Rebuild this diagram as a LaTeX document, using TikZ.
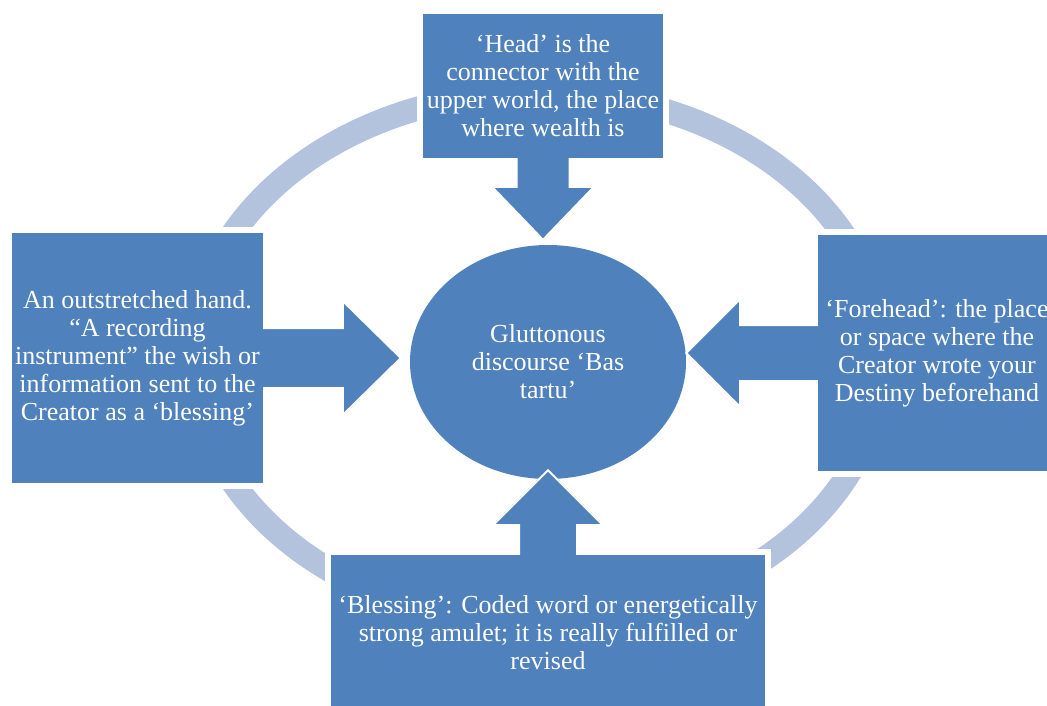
\documentclass[tikz,border=0pt]{standalone}
\usepackage{fontspec}
\setmainfont{Liberation Serif}
\usetikzlibrary{shapes.geometric,calc}
\definecolor{boxblue}{RGB}{79,129,189}
\definecolor{ringblue}{RGB}{179,194,221}
\newcommand{\boxfont}{\fontsize{26}{28}\selectfont}
\pgfdeclarelayer{ringlayer}
\pgfdeclarelayer{ellipselayer}
\pgfdeclarelayer{arrowlayer}
\pgfsetlayers{ringlayer,ellipselayer,arrowlayer,main}
\tikzset{
  infobox/.style={fill=boxblue, text=white, align=center, inner sep=0pt, font=\boxfont},
  halo/.style={draw=white, line width=11pt},
  ring/.style={draw=ringblue, line width=24pt},
  % block arrow: half shaft width, half head width, head length
  blockarrow/.style n args={3}{fill=boxblue, draw=white, line width=2pt,
    to path={
      ($(\tikztostart)!#1!90:(\tikztotarget)$) --
      ($(\tikztotarget)!#3!(\tikztostart)!#1!-90:(\tikztostart)$) --
      ($(\tikztotarget)!#3!(\tikztostart)!#2!-90:(\tikztostart)$) --
      (\tikztotarget) --
      ($(\tikztotarget)!#3!(\tikztostart)!#2!90:(\tikztostart)$) --
      ($(\tikztotarget)!#3!(\tikztostart)!#1!90:(\tikztostart)$) --
      ($(\tikztostart)!#1!-90:(\tikztotarget)$) -- cycle}}
}

\begin{document}
\begin{tikzpicture}[x=1pt,y=-1pt]
\useasboundingbox (0,0) rectangle (1047,706);

% the four text boxes
\node[infobox, minimum width=240pt, minimum height=144pt] (head) at (543,86)
  {‘Head’ is the\\connector with the\\upper world, the place\\where wealth is};
\node[infobox, minimum width=251pt, minimum height=250pt] (hand) at (137.5,358)
  {An outstretched hand.\\“A recording\\instrument” the wish or\\information sent to the\\Creator as a ‘blessing’};
\node[infobox, minimum width=238pt, minimum height=236pt] (forehead) at (937,353)
  {‘Forehead’: the place\\or space where the\\Creator wrote your\\Destiny beforehand};
\node[infobox, minimum width=434pt, minimum height=156pt] (blessing) at (548,633)
  {‘Blessing’: Coded word or energetically\\strong amulet; it is really fulfilled or\\revised};

% centre
\begin{pgfonlayer}{ellipselayer}
\node[infobox, ellipse, minimum width=276pt, minimum height=234pt] (gist) at (548,362)
  {Gluttonous\\discourse ‘Bas\\tartu’};
\end{pgfonlayer}

\coordinate[yshift=5pt] (tiptop) at (head.center |- gist.north);
\coordinate[xshift=-9pt] (tipleft) at (hand.center -| gist.west);
\coordinate (tipright) at (forehead.center -| gist.east);
\coordinate[yshift=9pt] (tipbottom) at (blessing.center |- gist.south);

\begin{pgfonlayer}{arrowlayer}
\path[blockarrow={26.5pt}{51pt}{53pt}] (head.center) to (tiptop);
\path[blockarrow={30pt}{57pt}{58pt}] (hand.center) to (tipleft);
\path[blockarrow={28pt}{54pt}{54pt}] (forehead.center) to (tipright);
\path[blockarrow={29pt}{55pt}{55pt}] (blessing.center) to (tipbottom);
\end{pgfonlayer}

\begin{pgfonlayer}{ringlayer}
\draw[ring] (538,358) ellipse [x radius=345pt, y radius=266pt];
\foreach \b in {head,hand,forehead,blessing}
  \draw[halo] (\b.south west) rectangle (\b.north east);
\end{pgfonlayer}
\end{tikzpicture}
\end{document}
